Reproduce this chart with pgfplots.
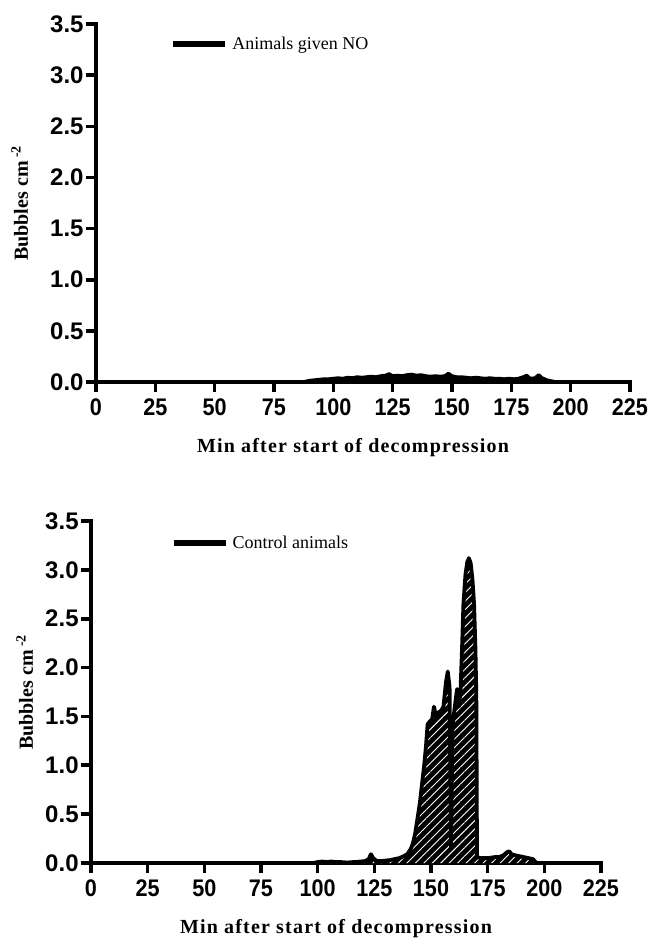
\documentclass[border=0pt]{standalone}
\usepackage{fontspec}
\setmainfont{Liberation Serif}
\setsansfont{Liberation Sans}
\newfontfamily\xlabfont[LetterSpace=6]{Liberation Serif}
\newfontfamily\narrowsans[FakeStretch=0.9]{Liberation Sans}
\usepackage{pgfplots}
\pgfplotsset{compat=1.18}
\usetikzlibrary{patterns.meta}

% top panel: animals given NO
\pgfplotstableread{
x y
86 0
88 0.005
90 0.015
92 0.02
94 0.025
96 0.03
98 0.03
100 0.035
102 0.04
104 0.035
106 0.045
108 0.04
110 0.05
112 0.045
114 0.05
116 0.055
118 0.05
120 0.06
122 0.065
123.5 0.08
125 0.06
127 0.065
129 0.06
131 0.07
133 0.075
135 0.065
137 0.07
139 0.06
141 0.055
143 0.06
145 0.055
147 0.06
148.5 0.085
150 0.06
152 0.05
154 0.05
156 0.045
158 0.04
160 0.045
162 0.04
164 0.035
166 0.04
168 0.035
170 0.035
172 0.03
174 0.035
176 0.03
178 0.035
180 0.05
181.5 0.065
183 0.035
185 0.04
186.5 0.07
188 0.04
190 0.02
192 0.01
194 0
}\notab

% bottom panel: control animals
\pgfplotstableread{
x y
98 0
100 0.01
102 0.015
104 0.01
106 0.015
108 0.01
110 0.01
113 0.005
116 0.01
119 0.015
121 0.02
122.5 0.04
123.5 0.09
124.5 0.05
126 0.02
128 0.02
130 0.025
132 0.03
134 0.04
136 0.05
138 0.07
139.5 0.09
141 0.14
142 0.2
143 0.3
144 0.45
145 0.6
146 0.8
147 1.0
147.8 1.2
148.5 1.42
149.5 1.45
150.5 1.47
151.3 1.6
152.2 1.5
153.2 1.54
154.5 1.56
155.5 1.6
156.6 1.85
157.4 1.96
158.2 1.8
158.8 0.15
159.5 1.4
160.5 1.6
161.5 1.78
162.3 1.6
163 1.75
163.7 2.2
164.3 2.65
165.2 2.95
166.0 3.08
166.7 3.12
167.5 3.07
168.3 2.9
169.0 2.65
169.6 2.2
170.0 1.7
170.3 0.06
172 0.05
175 0.05
178 0.06
180 0.06
182 0.08
183.5 0.11
184.5 0.12
185.5 0.09
187 0.08
189 0.07
191 0.06
193 0.05
195 0.04
196.5 0
}\ctltab

\pgfplotsset{
  bub/.style={
    scale only axis,
    xmin=0, xmax=225, ymin=0, ymax=3.5,
    axis x line*=bottom, axis y line*=left,
    axis line style={line width=2pt, line cap=rect},
    xtick={0,25,...,225}, ytick={0,0.5,...,3.5},
    tick align=outside, major tick length=5pt,
    major tick style={line width=1.8pt, black},
    /pgf/number format/assume math mode=true,
    yticklabel style={font=\sffamily\bfseries\fontsize{12}{12}\selectfont,
      inner sep=1pt, /pgf/number format/.cd, fixed, fixed zerofill, precision=1},
    xticklabel style={font=\narrowsans\bfseries\fontsize{12}{12}\selectfont},
    xlabel={Min after start of decompression},
    xlabel style={font=\xlabfont\bfseries\fontsize{10}{12}\selectfont,
      at={([xshift=-5pt,yshift=-35pt]axis description cs:0.5,0)}, anchor=base},
    ylabel={Bubbles cm\,\textsuperscript{-2}},
    ylabel style={font=\bfseries\fontsize{10}{12}\selectfont, anchor=base},
    legend style={draw=none, fill=none, inner sep=0pt, anchor=west,
      font=\fontsize{9}{10}\selectfont},
    legend cell align=left,
    legend image code/.code={\draw[line width=3pt, black] (0pt,0pt) -- (26pt,0pt);},
    clip=false,
  }
}

\begin{document}
\begin{tikzpicture}
\useasboundingbox (0pt,0pt) rectangle (327pt,-469.5pt);

\begin{axis}[bub, at={(48pt,-191pt)}, anchor=south west,
  width=267pt, height=179pt,
  ylabel style={at={([xshift=-34pt]axis description cs:0,0.5)}},
  legend style={at={(axis cs:31.2,3.3)}}]
  \addplot[black, fill=black, line width=1.6pt, line join=round] table[x=x, y=y] {\notab} \closedcycle;
  \addlegendentry{Animals given NO}
\end{axis}

\begin{axis}[bub, at={(45.5pt,-431.5pt)}, anchor=south west,
  width=255pt, height=171pt,
  ylabel style={at={([xshift=-29pt]axis description cs:0,0.5)}},
  legend style={at={(axis cs:34.9,3.27)}}]
  \addplot[draw=none, fill=black, forget plot] table[x=x, y=y] {\ctltab} \closedcycle;
  \addplot[draw=none, pattern={Lines[angle=45, distance=3pt, line width=0.45pt]}, pattern color=white, forget plot] table[x=x, y=y] {\ctltab} \closedcycle;
  \addplot[black, line width=1.9pt, line join=round] table[x=x, y=y] {\ctltab};
  \addlegendentry{Control animals}
\end{axis}
\end{tikzpicture}
\end{document}
